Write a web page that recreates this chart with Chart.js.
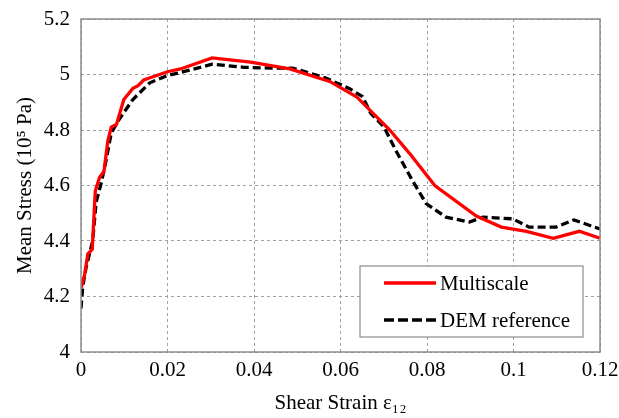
<!DOCTYPE html>
<html>
<head>
<meta charset="utf-8">
<script src="https://cdn.jsdelivr.net/npm/chart.js@4"></script>
<style>
html,body{margin:0;padding:0;background:#fff;}
#wrap{width:619px;height:418px;}
</style>
</head>
<body>
<div id="wrap"><canvas id="c" width="619" height="418"></canvas></div>
<script>
const seriesNames = ['Multiscale', 'DEM reference'];

const msStrain = [0, 0.0008, 0.0016, 0.0026, 0.0033, 0.0043, 0.0053, 0.0062, 0.007, 0.0082, 0.0099, 0.012, 0.0132, 0.0145, 0.02, 0.023, 0.0303, 0.0392, 0.0483, 0.0575, 0.0637, 0.0714, 0.076, 0.0818, 0.0914, 0.0972, 0.103, 0.1092, 0.1152, 0.12];
const msStress = [4.23, 4.276, 4.354, 4.37, 4.58, 4.63, 4.65, 4.76, 4.81, 4.82, 4.91, 4.95, 4.96, 4.98, 5.01, 5.02, 5.06, 5.045, 5.02, 4.975, 4.92, 4.80, 4.715, 4.60, 4.49, 4.45, 4.435, 4.41, 4.435, 4.41];

const demStrain = [0, 0.0004, 0.0012, 0.0027, 0.0035, 0.0047, 0.0058, 0.007, 0.0089, 0.012, 0.0159, 0.02, 0.0237, 0.0303, 0.0338, 0.0377, 0.0439, 0.049, 0.0566, 0.062, 0.0651, 0.067, 0.0701, 0.0728, 0.0766, 0.0798, 0.0844, 0.0898, 0.0929, 0.0998, 0.1036, 0.1098, 0.114, 0.12];
const demStress = [4.157, 4.235, 4.306, 4.40, 4.54, 4.61, 4.69, 4.79, 4.84, 4.91, 4.97, 4.996, 5.01, 5.037, 5.032, 5.026, 5.023, 5.023, 4.987, 4.95, 4.92, 4.86, 4.81, 4.726, 4.619, 4.535, 4.486, 4.468, 4.486, 4.48, 4.45, 4.45, 4.476, 4.443];

const xTickLabels = ['0', '0.02', '0.04', '0.06', '0.08', '0.1', '0.12'];
const yTickLabels = ['4', '4.2', '4.4', '4.6', '4.8', '5', '5.2'];

const FONT = 'Liberation Serif, "Times New Roman", serif';
const FS = 21;

const toPts = (xs, ys) => xs.map((x, i) => ({x: x, y: ys[i]}));

const framePlugin = {
  id: 'frame',
  afterDatasetsDraw(chart) {
    const {ctx, chartArea: a} = chart;
    ctx.save();
    ctx.strokeStyle = '#8c8c8c';
    ctx.lineWidth = 1.5;
    ctx.strokeRect(a.left, a.top, a.right - a.left, a.bottom - a.top);
    ctx.restore();
  }
};

const legendPlugin = {
  id: 'boxLegend',
  afterDraw(chart) {
    const {ctx, chartArea: a} = chart;
    const bx = a.left + 279, by = a.top + 247, bw = 223, bh = 71;
    ctx.save();
    ctx.fillStyle = '#fff';
    ctx.fillRect(bx, by, bw, bh);
    ctx.strokeStyle = '#8c8c8c';
    ctx.lineWidth = 1.2;
    ctx.strokeRect(bx, by, bw, bh);
    chart.data.datasets.forEach((ds, i) => {
      const ly = by + 17 + i * 37;
      ctx.beginPath();
      ctx.strokeStyle = ds.borderColor;
      ctx.lineWidth = ds.borderWidth;
      ctx.setLineDash(ds.borderDash ? [10, 4] : []);
      ctx.moveTo(bx + 24, ly);
      ctx.lineTo(bx + 76, ly);
      ctx.stroke();
      ctx.setLineDash([]);
      ctx.fillStyle = '#000';
      ctx.font = FS + 'px ' + FONT;
      ctx.textBaseline = 'middle';
      ctx.textAlign = 'left';
      ctx.fillText(ds.label, bx + 80, ly + 1);
    });
    ctx.restore();
  }
};

new Chart(document.getElementById('c'), {
  type: 'line',
  data: {
    datasets: [
      {
        label: seriesNames[0],
        data: toPts(msStrain, msStress),
        borderColor: '#ff0000',
        borderWidth: 3.3,
        pointRadius: 0,
        tension: 0,
        fill: false
      },
      {
        label: seriesNames[1],
        data: toPts(demStrain, demStress),
        borderColor: '#000000',
        borderWidth: 3.3,
        borderDash: [8, 4],
        pointRadius: 0,
        tension: 0,
        fill: false
      }
    ]
  },
  options: {
    responsive: false,
    animation: false,
    layout: {padding: {left: 0, right: 19, top: 19, bottom: 0}},
    plugins: {legend: {display: false}, tooltip: {enabled: false}},
    scales: {
      x: {
        type: 'linear',
        min: 0, max: 0.12,
        afterBuildTicks(s) {
          s.ticks = xTickLabels.map(t => ({value: parseFloat(t)}));
        },
        afterFit(s) { s.height = 66; s.paddingLeft = 0; s.paddingRight = 0; s.paddingTop = 0; s.paddingBottom = 0; },
        ticks: {
          callback: (v, i) => xTickLabels[i],
          font: {family: FONT, size: FS},
          color: '#000',
          padding: 6,
          maxRotation: 0,
          autoSkip: false
        },
        grid: {color: '#a0a0a0', lineWidth: 1, drawTicks: false},
        border: {display: false, dash: [3, 3]},
        title: {display: true, text: 'Shear Strain ε₁₂', font: {family: FONT, size: FS}, color: '#000', padding: {top: 0, bottom: 2}}
      },
      y: {
        type: 'linear',
        min: 4, max: 5.2,
        afterBuildTicks(s) {
          s.ticks = yTickLabels.map(t => ({value: parseFloat(t)}));
        },
        afterFit(s) { s.width = 81; s.paddingLeft = 0; s.paddingRight = 0; s.paddingTop = 0; s.paddingBottom = 0; },
        ticks: {
          callback: (v, i) => yTickLabels[i],
          font: {family: FONT, size: FS},
          color: '#000',
          padding: 11
        },
        grid: {color: '#a0a0a0', lineWidth: 1, drawTicks: false},
        border: {display: false, dash: [3, 3]},
        title: {display: true, text: 'Mean Stress (10⁵ Pa)', font: {family: FONT, size: FS}, color: '#000', padding: {top: 13, bottom: 0}}
      }
    }
  },
  plugins: [framePlugin, legendPlugin]
});
</script>
</body>
</html>
